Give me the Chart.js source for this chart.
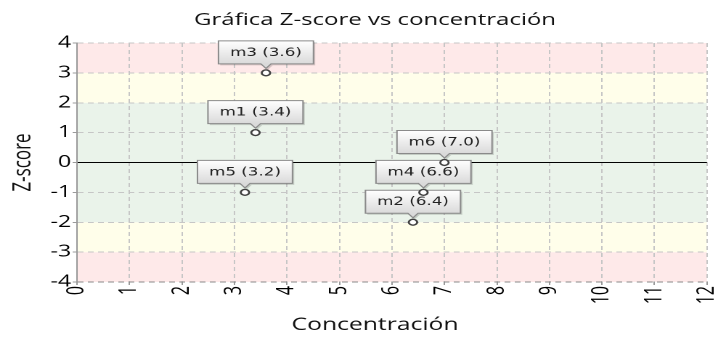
<!DOCTYPE html>
<html>
<head>
<meta charset="utf-8">
<script src="https://cdn.jsdelivr.net/npm/chart.js@4.4.1/dist/chart.umd.min.js"></script>
<style>
  html, body { margin: 0; padding: 0; background: #ffffff; overflow: hidden; }
  #c { position: absolute; left: 0; top: 0; transform: scaleX(1.452); transform-origin: 0 0; }
</style>
</head>
<body>
<canvas id="c" width="500" height="338"></canvas>
<script>
// ---- data ----
const chartTitle = 'Gráfica Z-score vs concentración';
const xAxisTitle = 'Concentración';
const yAxisTitle = 'Z-score';
const sampleNames = ['m1', 'm2', 'm3', 'm4', 'm5', 'm6'];
const concentrations = [3.4, 6.4, 3.6, 6.6, 3.2, 7.0];
const zScores = [1, -2, 3, -1, -1, 0];
const xTickValues = [0, 1, 2, 3, 4, 5, 6, 7, 8, 9, 10, 11, 12];
const yTickValues = [-4, -3, -2, -1, 0, 1, 2, 3, 4];
const zoneLower = [-4, -3, -2, 2, 3];
const zoneUpper = [-3, -2, 2, 3, 4];
const zoneKind = ['bad', 'warn', 'ok', 'warn', 'bad'];

// ---- styles ----
const zoneColors = { bad: 'rgb(254,233,233)', warn: 'rgb(255,254,234)', ok: 'rgb(234,243,234)' };
const FONT = '"Open Sans", "Liberation Sans", sans-serif';

const points = concentrations.map((c, i) => ({ x: c, y: zScores[i] }));

const zonesPlugin = {
  id: 'zones',
  beforeDraw(chart) {
    const { ctx, chartArea } = chart;
    const y = chart.scales.y;
    ctx.save();
    zoneLower.forEach((lo, i) => {
      const top = y.getPixelForValue(zoneUpper[i]);
      const bottom = y.getPixelForValue(lo);
      ctx.fillStyle = zoneColors[zoneKind[i]];
      ctx.fillRect(chartArea.left, top, chartArea.right - chartArea.left, bottom - top);
    });
    ctx.restore();
  }
};

const calloutPlugin = {
  id: 'callouts',
  beforeDatasetsDraw(chart) {
    const ctx = chart.ctx;
    const meta = chart.getDatasetMeta(0);
    meta.data.forEach((pt, i) => {
      const text = sampleNames[i] + ' (' + concentrations[i].toFixed(1) + ')';
      ctx.save();
      ctx.font = '11.5px "DejaVu Sans", sans-serif';
      const tw = ctx.measureText(text).width;
      const w = tw + 16, h = 23;
      const cx = pt.x;
      const x0 = cx - w / 2, y1 = pt.y - 9, y0 = y1 - h;
      const path = () => {
        ctx.beginPath();
        ctx.moveTo(x0, y0);
        ctx.lineTo(x0 + w, y0);
        ctx.lineTo(x0 + w, y1);
        ctx.lineTo(cx + 3.5, y1);
        ctx.lineTo(cx, y1 + 4.5);
        ctx.lineTo(cx - 3.5, y1);
        ctx.lineTo(x0, y1);
        ctx.closePath();
      };
      // soft shadow
      ctx.save();
      ctx.translate(1.2, 1.5);
      path();
      ctx.fillStyle = 'rgba(0,0,0,0.16)';
      ctx.fill();
      ctx.restore();
      const g = ctx.createLinearGradient(0, y0, 0, y1);
      g.addColorStop(0, '#ffffff');
      g.addColorStop(1, '#dadada');
      path();
      ctx.fillStyle = g;
      ctx.fill();
      ctx.lineWidth = 1;
      ctx.strokeStyle = '#8a8a8a';
      ctx.stroke();
      ctx.fillStyle = '#222222';
      ctx.textAlign = 'center';
      ctx.textBaseline = 'middle';
      ctx.fillText(text, cx, y0 + h / 2 + 0.5);
      ctx.restore();
    });
  }
};

new Chart(document.getElementById('c'), {
  type: 'scatter',
  data: {
    datasets: [{
      data: points,
      pointRadius: 2.9,
      pointBackgroundColor: '#ffffff',
      pointBorderColor: '#404040',
      pointBorderWidth: 1.4,
      clip: false
    }]
  },
  options: {
    responsive: false,
    devicePixelRatio: 2,
    animation: false,
    events: [],
    layout: { padding: { left: 16.6, right: 0, top: 0, bottom: 0 } },
    plugins: {
      legend: { display: false },
      tooltip: { enabled: false },
      title: {
        display: true,
        text: chartTitle,
        color: '#111111',
        font: { family: FONT, size: 16.5, weight: 'normal' },
        padding: { top: 10.6, bottom: 12.6 }
      },
      subtitle: {
        display: true,
        position: 'bottom',
        text: xAxisTitle,
        color: '#111111',
        font: { family: FONT, size: 17, weight: 'normal' },
        padding: { top: 10, bottom: 2.8 }
      }
    },
    scales: {
      x: {
        type: 'linear',
        min: xTickValues[0],
        max: xTickValues[xTickValues.length - 1],
        afterBuildTicks: (s) => { s.ticks = xTickValues.map(v => ({ value: v })); },
        afterFit: (s) => { s.height = 22.8; s.paddingRight = 13.1; s.paddingLeft = 0; },
        ticks: {
          autoSkip: false,
          minRotation: 90,
          maxRotation: 90,
          padding: 1,
          color: '#000000',
          font: { family: FONT, size: 16 }
        },
        grid: {
          color: '#c6c6c6',
          tickLength: 3,
          tickColor: '#9a9a9a'
        },
        border: { display: false, dash: [4, 3] }
      },
      y: {
        type: 'linear',
        min: yTickValues[0],
        max: yTickValues[yTickValues.length - 1],
        afterBuildTicks: (s) => { s.ticks = yTickValues.map(v => ({ value: v })); },
        afterFit: (s) => { s.width = 36.4; },
        title: {
          display: true,
          text: yAxisTitle,
          color: '#111111',
          font: { family: FONT, size: 17, weight: 'normal' },
          padding: { top: -10.6, bottom: 0 }
        },
        ticks: {
          padding: 1,
          color: '#000000',
          font: { family: FONT, size: 16 }
        },
        grid: {
          color: (c) => (c.tick && c.tick.value === 0) ? '#000000' : ((c.tick && c.tick.value === -4) ? '#8a8a8a' : '#c6c6c6'),
          tickLength: 3,
          tickColor: '#9a9a9a'
        },
        border: {
          display: true,
          color: '#9a9a9a',
          width: 1,
          dash: (c) => (c.tick && c.tick.value !== 0) ? [4, 3] : []
        }
      }
    }
  },
  plugins: [zonesPlugin, calloutPlugin]
});
</script>
</body>
</html>
